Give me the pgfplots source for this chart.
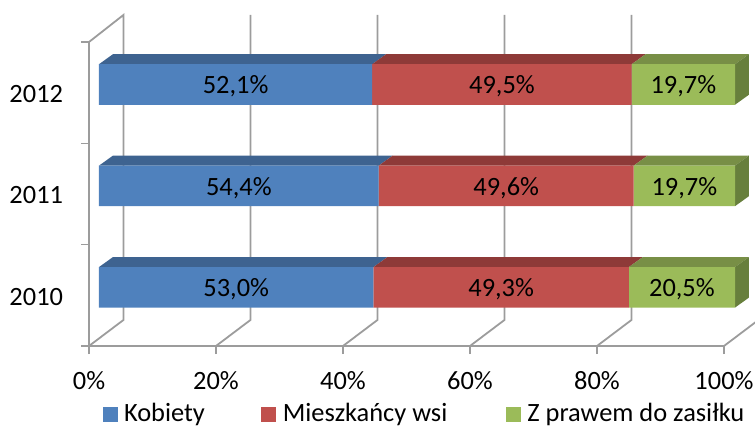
\documentclass[border=0pt]{standalone}
\usepackage{fontspec}
\setmainfont{Carlito}
\usepackage{pgfplots}
\pgfplotsset{compat=1.18}
\usepackage{pgfplotstable}
\definecolor{cB}{HTML}{4F81BD}\definecolor{cBt}{HTML}{3E6390}
\definecolor{cR}{HTML}{C0504D}\definecolor{cRt}{HTML}{8E3A38}
\definecolor{cG}{HTML}{9BBB59}\definecolor{cGt}{HTML}{788F46}\definecolor{cGs}{HTML}{677F3C}
\definecolor{gridc}{HTML}{9C9C9C}
\pgfplotstableread{
pos k m z total
0.579 53.0 49.3 20.5 122.8
1.580 54.4 49.6 19.7 123.7
2.581 52.1 49.5 19.7 121.3
}\datatable
\pgfplotsset{
  common/.style={scale only axis,height=304pt,ymin=0,ymax=3,xmin=0,xmax=100,clip=false},
  overlay/.style={common,width=636pt,at={(10pt,0pt)},anchor=south west,axis lines=none},
  sq/.style={legend image code/.code={\fill[##1] (0pt,0pt) rectangle (15pt,15pt);}},
}
\begin{document}
\fontsize{26.4}{30}\selectfont
\begin{tikzpicture}[x=1pt,y=1pt]
% axis walls, grid, ticks
\begin{axis}[common,width=635pt,at={(0pt,0pt)},anchor=south west,
  axis x line=bottom,axis y line=left,axis line style={-,gridc,line width=1.6pt},
  tick style={gridc,line width=1.6pt},tick align=outside,major tick length=8pt,
  xtick={0,20,40,60,80,100},xticklabels={0\%,20\%,40\%,60\%,80\%,100\%},
  ytick={0,1,2,3},yticklabels={2010,2011,2012},y tick label as interval,
  xticklabel style={yshift=-8pt},
  yticklabel style={xshift=-9pt,yshift=-1.5pt},
  unbounded coords=jump]
\addplot[gridc,line width=1.8pt,forget plot] coordinates {
 (0,3) (5.43,3.267) (5.43,0.257) (0,0) (nan,nan)
 (25.43,3.267) (25.43,0.257) (20,0) (nan,nan)
 (45.43,3.267) (45.43,0.257) (40,0) (nan,nan)
 (65.43,3.267) (65.43,0.257) (60,0) (nan,nan)
 (85.43,3.267) (85.43,0.257) (80,0) (nan,nan)
 (105.43,3.267) (105.43,0.257) (100,0)
};
\end{axis}
% top and side faces
\begin{axis}[overlay]
\addplot[fill=cBt,draw=none,forget plot] coordinates {(0,0.779) (43.16,0.779) (45.36,0.878) (2.2,0.878)} -- cycle;
\addplot[fill=cRt,draw=none,forget plot] coordinates {(43.16,0.779) (83.31,0.779) (85.51,0.878) (45.36,0.878)} -- cycle;
\addplot[fill=cGt,draw=none,forget plot] coordinates {(83.31,0.779) (100,0.779) (102.2,0.878) (85.51,0.878)} -- cycle;
\addplot[fill=cGs,draw=none,forget plot] coordinates {(100,0.379) (102.2,0.478) (102.2,0.878) (100,0.779)} -- cycle;
\addplot[fill=cBt,draw=none,forget plot] coordinates {(0,1.780) (43.98,1.780) (46.18,1.879) (2.2,1.879)} -- cycle;
\addplot[fill=cRt,draw=none,forget plot] coordinates {(43.98,1.780) (84.07,1.780) (86.27,1.879) (46.18,1.879)} -- cycle;
\addplot[fill=cGt,draw=none,forget plot] coordinates {(84.07,1.780) (100,1.780) (102.2,1.879) (86.27,1.879)} -- cycle;
\addplot[fill=cGs,draw=none,forget plot] coordinates {(100,1.380) (102.2,1.479) (102.2,1.879) (100,1.780)} -- cycle;
\addplot[fill=cBt,draw=none,forget plot] coordinates {(0,2.781) (42.95,2.781) (45.15,2.880) (2.2,2.880)} -- cycle;
\addplot[fill=cRt,draw=none,forget plot] coordinates {(42.95,2.781) (83.76,2.781) (85.96,2.880) (45.15,2.880)} -- cycle;
\addplot[fill=cGt,draw=none,forget plot] coordinates {(83.76,2.781) (100,2.781) (102.2,2.880) (85.96,2.880)} -- cycle;
\addplot[fill=cGs,draw=none,forget plot] coordinates {(100,2.381) (102.2,2.480) (102.2,2.880) (100,2.781)} -- cycle;
\end{axis}
% front faces and legend
\begin{axis}[overlay,xbar stacked,bar width=40.6pt,
  legend columns=3,
  legend cell align=left,
  legend style={at={(0pt,0pt)},anchor=west,xshift=4pt,yshift=-68.5pt,draw=none,fill=none,
    inner sep=0pt,outer sep=0pt,
    nodes={inner sep=0pt,anchor=base west},
    /tikz/column 1/.style={column sep=6pt},
    /tikz/column 2/.style={column sep=56pt},
    /tikz/column 3/.style={column sep=7pt},
    /tikz/column 4/.style={column sep=59pt},
    /tikz/column 5/.style={column sep=6pt}}]
\addplot[fill=cB,draw=none,sq] table[x expr=\thisrow{k}/\thisrow{total}*100,y=pos] {\datatable};
\addlegendentry{Kobiety}
\addplot[fill=cR,draw=none,sq] table[x expr=\thisrow{m}/\thisrow{total}*100,y=pos] {\datatable};
\addlegendentry{Mieszkańcy wsi}
\addplot[fill=cG,draw=none,sq] table[x expr=\thisrow{z}/\thisrow{total}*100,y=pos] {\datatable};
\addlegendentry{Z prawem do zasiłku}
\end{axis}
% value labels
\begin{axis}[overlay,point meta=explicit,
  /pgf/number format/assume math mode=true,
  nodes near coords={\pgfmathprintnumber[fixed,fixed zerofill,precision=1,use comma]{\pgfplotspointmeta}\%},
  every node near coord/.style={anchor=center,yshift=-2pt,black}]
\addplot[draw=none,forget plot] table[x expr=(\thisrow{k}/2)/\thisrow{total}*100,y=pos,meta=k] {\datatable};
\addplot[draw=none,forget plot] table[x expr=(\thisrow{k}+\thisrow{m}/2)/\thisrow{total}*100,y=pos,meta=m] {\datatable};
\addplot[draw=none,forget plot] table[x expr=(\thisrow{k}+\thisrow{m}+\thisrow{z}/2)/\thisrow{total}*100,y=pos,meta=z] {\datatable};
\end{axis}
\pgfresetboundingbox
\path[use as bounding box] (-89pt,-83pt) rectangle (666pt,346pt);
\end{tikzpicture}
\end{document}
